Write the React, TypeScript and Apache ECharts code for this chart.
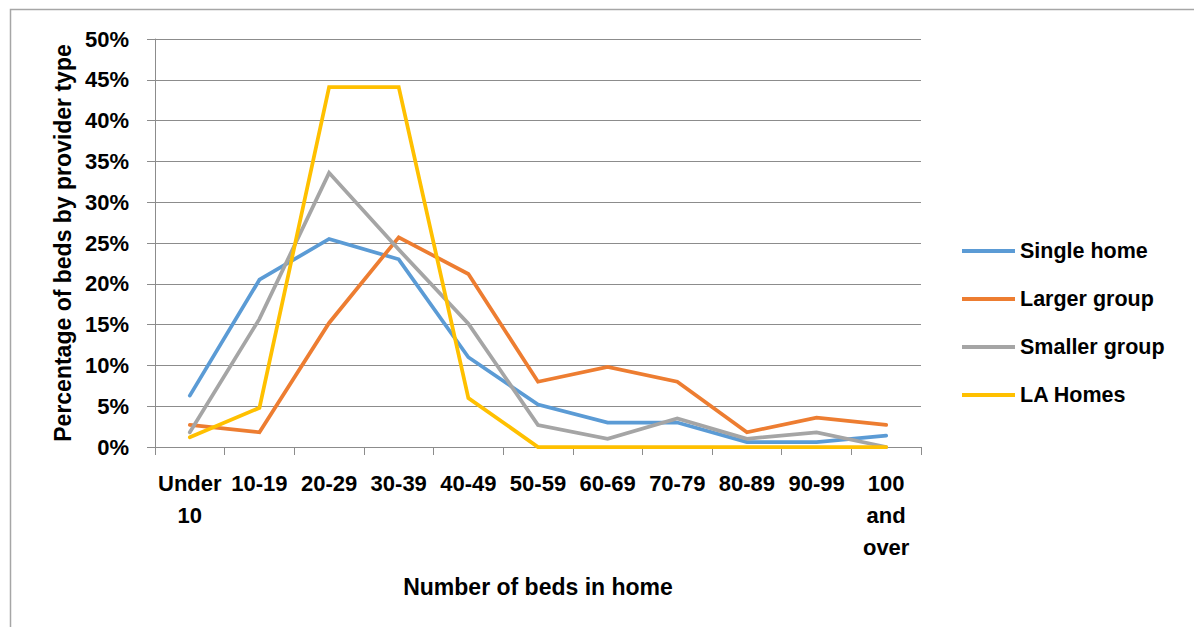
import React, { useEffect, useRef } from "react";
import * as echarts from "echarts";

const categories = ["Under\n10", "10-19", "20-29", "30-39", "40-49", "50-59", "60-69", "70-79", "80-89", "90-99", "100\nand\nover"];
const singleHome = [6.3, 20.5, 25.5, 23.0, 11.0, 5.2, 3.0, 3.0, 0.6, 0.6, 1.4];
const largerGroup = [2.7, 1.8, 15.2, 25.7, 21.2, 8.0, 9.8, 8.0, 1.8, 3.6, 2.7];
const smallerGroup = [1.8, 15.7, 33.6, 24.2, 15.1, 2.7, 1.0, 3.5, 1.0, 1.8, 0.0];
const laHomes = [1.2, 4.8, 44.1, 44.1, 6.0, 0.0, 0.0, 0.0, 0.0, 0.0, 0.0];
const seriesNames = ["Single home", "Larger group", "Smaller group", "LA Homes"];
const seriesColors = ["#5B9BD5", "#ED7D31", "#A5A5A5", "#FFC000"];

const FONT = "'Liberation Sans', Arial, sans-serif";
const GRID_COLOR = "#8C8C8C";

export default function App() {
  const ref = useRef<HTMLDivElement>(null);
  useEffect(() => {
    document.body.style.margin = "0";
    if (!ref.current) return;
    const chart = echarts.init(ref.current, undefined, { renderer: "svg" });
    const dataSets = [singleHome, largerGroup, smallerGroup, laHomes];
    chart.setOption({
      animation: false,
      backgroundColor: "#ffffff",
      textStyle: { fontFamily: FONT },
      graphic: [
        {
          type: "rect",
          shape: { x: 10.5, y: 9.5, width: 1400, height: 800 },
          style: { fill: "none", stroke: "#A6A6A6", lineWidth: 1.5 },
          silent: true,
        },
      ],
      grid: { left: 155, top: 39, width: 766, height: 408, containLabel: false },
      legend: {
        orient: "vertical",
        left: 962,
        top: 239,
        padding: 0,
        icon: "rect",
        itemWidth: 53,
        itemHeight: 4,
        itemGap: 24,
        data: seriesNames,
        textStyle: { fontFamily: FONT, fontSize: 21.5, fontWeight: "bold", color: "#000", lineHeight: 24, padding: [0, 0, 0, 0] },
      },
      xAxis: {
        type: "category",
        data: categories,
        boundaryGap: true,
        axisLine: { show: true, lineStyle: { color: GRID_COLOR, width: 1 } },
        axisTick: { show: true, alignWithLabel: false, length: 8, lineStyle: { color: GRID_COLOR } },
        axisLabel: {
          interval: 0,
          fontFamily: FONT,
          fontSize: 22,
          fontWeight: "bold",
          color: "#000",
          lineHeight: 32,
          margin: 20,
        },
        name: "Number of beds in home",
        nameLocation: "middle",
        nameGap: 128,
        nameTextStyle: { fontFamily: FONT, fontSize: 23, fontWeight: "bold", color: "#000" },
      },
      yAxis: {
        type: "value",
        min: 0,
        max: 50,
        interval: 5,
        axisLine: { show: true, lineStyle: { color: GRID_COLOR, width: 1 } },
        axisTick: { show: true, length: 8, lineStyle: { color: GRID_COLOR } },
        splitLine: { show: true, lineStyle: { color: GRID_COLOR, width: 1 } },
        axisLabel: {
          formatter: "{value}%",
          fontFamily: FONT,
          fontSize: 22,
          fontWeight: "bold",
          color: "#000",
          margin: 26,
        },
        name: "Percentage of beds by provider type",
        nameLocation: "middle",
        nameGap: 81,
        nameTextStyle: { fontFamily: FONT, fontSize: 23, fontWeight: "bold", color: "#000" },
      },
      series: seriesNames.map((name, i) => ({
        name,
        type: "line",
        data: dataSets[i],
        symbol: "none",
        showSymbol: false,
        lineStyle: { color: seriesColors[i], width: 3.75, cap: "round", join: "miter" },
        itemStyle: { color: seriesColors[i] },
        z: 2 + i,
      })),
    });
    return () => chart.dispose();
  }, []);
  return <div ref={ref} style={{ width: 1194, height: 627 }} />;
}
